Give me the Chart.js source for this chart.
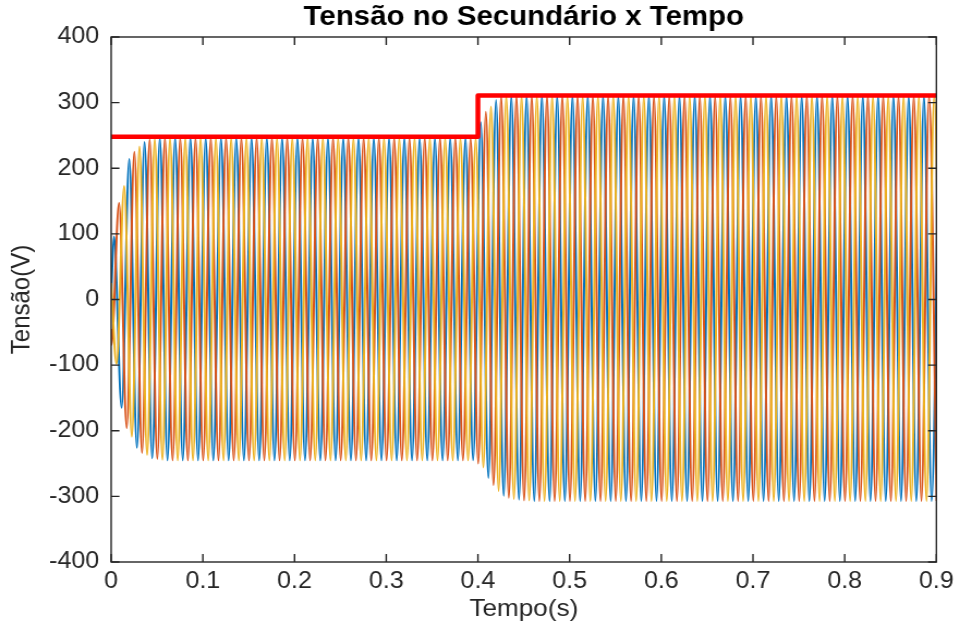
<!DOCTYPE html>
<html lang="pt-BR">
<head>
<meta charset="UTF-8">
<title>Tensão no Secundário x Tempo</title>
<script src="https://cdn.jsdelivr.net/npm/chart.js"></script>
<style>
  html, body { margin: 0; padding: 0; background: #fff; overflow: hidden; }
  /* figure is a bit wider than tall fonts suggest: stretch horizontally */
  #quadro { width: 881px; height: 630px; transform: scaleX(1.0897); transform-origin: 0 0; }
</style>
</head>
<body>
<div id="quadro"><canvas id="grafico" width="881" height="630"></canvas></div>

<script>
// three-phase secondary voltage, one value per half-cycle extreme (V)
// half-cycle spacing of 60 Hz, first extreme time of each phase (s)
const meioPeriodo = 1 / 120;
const inicioFases = [0.0031, 0.00033, 0.0059];
const valorInicial = [10, -45, 25];

const faseA = [
  96, -165, 214, -226, 240, -242, 246, -245,
  246, -245, 246, -245, 246, -245, 246, -245, 246, -245,
  246, -245, 246, -245, 246, -245, 246, -245, 246, -245,
  246, -245, 246, -245, 246, -245, 246, -245, 246, -245,
  246, -245, 246, -245, 246, -245, 246, -245, 246, -245,
  270, -272, 304, -299, 310, -305, 310, -307,
  310, -307, 310, -307, 310, -307, 310, -307, 310, -307,
  310, -307, 310, -307, 310, -307, 310, -307, 310, -307,
  310, -307, 310, -307, 310, -307, 310, -307, 310, -307,
  310, -307, 310, -307, 310, -307, 310, -307, 310, -307,
  310, -307, 310, -307, 310, -307, 310, -307, 310, -307,
  310, -307, 310
];

const faseB = [
  -69, 147, -196, 225, -234, 244, -243, 246, -245,
  246, -245, 246, -245, 246, -245, 246, -245, 246, -245,
  246, -245, 246, -245, 246, -245, 246, -245, 246, -245,
  246, -245, 246, -245, 246, -245, 246, -245, 246, -245,
  246, -245, 246, -245, 246, -245, 246, -245, 246,
  -250, 286, -283, 310, -302, 310, -306, 310,
  -307, 310, -307, 310, -307, 310, -307, 310, -307, 310,
  -307, 310, -307, 310, -307, 310, -307, 310, -307, 310,
  -307, 310, -307, 310, -307, 310, -307, 310, -307, 310,
  -307, 310, -307, 310, -307, 310, -307, 310, -307, 310,
  -307, 310, -307, 310, -307, 310, -307, 310, -307, 310,
  -307, 310, -307
];

const faseC = [
  -98, 173, -209, 233, -237, 245, -244, 246, -245,
  246, -245, 246, -245, 246, -245, 246, -245, 246, -245,
  246, -245, 246, -245, 246, -245, 246, -245, 246, -245,
  246, -245, 246, -245, 246, -245, 246, -245, 246, -245,
  246, -245, 246, -245, 246, -245, 246, -245, 246,
  -256, 294, -292, 310, -304, 310, -306, 310,
  -307, 310, -307, 310, -307, 310, -307, 310, -307, 310,
  -307, 310, -307, 310, -307, 310, -307, 310, -307, 310,
  -307, 310, -307, 310, -307, 310, -307, 310, -307, 310,
  -307, 310, -307, 310, -307, 310, -307, 310, -307, 310,
  -307, 310, -307, 310, -307, 310, -307, 310, -307, 310,
  -307, 310, -307
];

// peak reference (red step)
const tempoRef = [0, 0.4, 0.4, 0.9];
const picoRef = [248, 248, 311, 311];

const ticksX = [0, 0.1, 0.2, 0.3, 0.4, 0.5, 0.6, 0.7, 0.8, 0.9];
const ticksY = [-400, -300, -200, -100, 0, 100, 200, 300, 400];

function pontosFase(i, extremos) {
  const pts = [{ x: 0, y: valorInicial[i] }];
  extremos.forEach((v, k) => pts.push({ x: inicioFases[i] + k * meioPeriodo, y: v }));
  return pts;
}

function serie(label, cor, dados) {
  return {
    label: label,
    data: dados,
    borderColor: cor,
    borderWidth: 2,
    pointRadius: 0,
    fill: false,
    cubicInterpolationMode: 'monotone',
    clip: 0
  };
}

// box around the axes with inward ticks on all four sides
const moldura = {
  id: 'moldura',
  afterDraw(chart) {
    const { ctx, chartArea: a, scales: { x, y } } = chart;
    ctx.save();
    ctx.strokeStyle = '#262626';
    ctx.lineWidth = 1.4;
    ctx.strokeRect(a.left, a.top, a.right - a.left, a.bottom - a.top);
    ctx.beginPath();
    ticksX.forEach(v => {
      const px = x.getPixelForValue(v);
      ctx.moveTo(px, a.bottom); ctx.lineTo(px, a.bottom - 8);
      ctx.moveTo(px, a.top); ctx.lineTo(px, a.top + 8);
    });
    ticksY.forEach(v => {
      const py = y.getPixelForValue(v);
      ctx.moveTo(a.left, py); ctx.lineTo(a.left + 7.6, py);
      ctx.moveTo(a.right, py); ctx.lineTo(a.right - 7.6, py);
    });
    ctx.stroke();
    ctx.restore();
  }
};

Chart.defaults.font.family = '"Liberation Sans", Arial, Helvetica, sans-serif';
Chart.defaults.color = '#262626';

new Chart(document.getElementById('grafico'), {
  type: 'line',
  data: {
    datasets: [
      {
        label: 'Pico',
        data: tempoRef.map((t, i) => ({ x: t, y: picoRef[i] })),
        borderColor: '#ff0000',
        borderWidth: 4.5,
        borderJoinStyle: 'round',
        pointRadius: 0,
        tension: 0,
        fill: false
      },
      serie('Fase C', '#EDB120', pontosFase(2, faseC)),
      serie('Fase B', '#D95319', pontosFase(1, faseB)),
      serie('Fase A', '#0072BD', pontosFase(0, faseA))
    ]
  },
  options: {
    responsive: false,
    animation: false,
    events: [],
    layout: { padding: { left: 0, right: 20.2, top: 0, bottom: 0 } },
    plugins: {
      legend: { display: false },
      tooltip: { enabled: false },
      title: {
        display: true,
        fullSize: false,
        text: 'Tensão no Secundário x Tempo',
        color: '#000',
        font: { size: 27, weight: 'bold', lineHeight: 1.2 },
        padding: { top: 1.6, bottom: 3 }
      }
    },
    scales: {
      x: {
        type: 'linear',
        min: 0,
        max: 0.9,
        afterBuildTicks: s => { s.ticks = ticksX.map(v => ({ value: v })); },
        afterFit: s => { s.height = 68; },
        grid: { display: false, drawTicks: false },
        border: { display: false },
        ticks: {
          padding: 5.7,
          maxRotation: 0,
          font: { size: 23, lineHeight: 1.2 },
          callback: v => String(v)
        },
        title: {
          display: true,
          text: 'Tempo(s)',
          font: { size: 24, lineHeight: 1.2 },
          padding: { top: 0, bottom: 6.6 }
        }
      },
      y: {
        type: 'linear',
        min: -400,
        max: 400,
        afterBuildTicks: s => { s.ticks = ticksY.map(v => ({ value: v })); },
        afterFit: s => { s.width = 102; },
        grid: { display: false, drawTicks: false },
        border: { display: false },
        ticks: {
          padding: 11,
          font: { size: 23, lineHeight: 1.2 },
          callback: v => String(v)
        },
        title: {
          display: true,
          text: 'Tensão(V)',
          font: { size: 24, lineHeight: 1.2 },
          padding: { top: 6.2, bottom: 0 }
        }
      }
    }
  },
  plugins: [moldura]
});
</script>
</body>
</html>
